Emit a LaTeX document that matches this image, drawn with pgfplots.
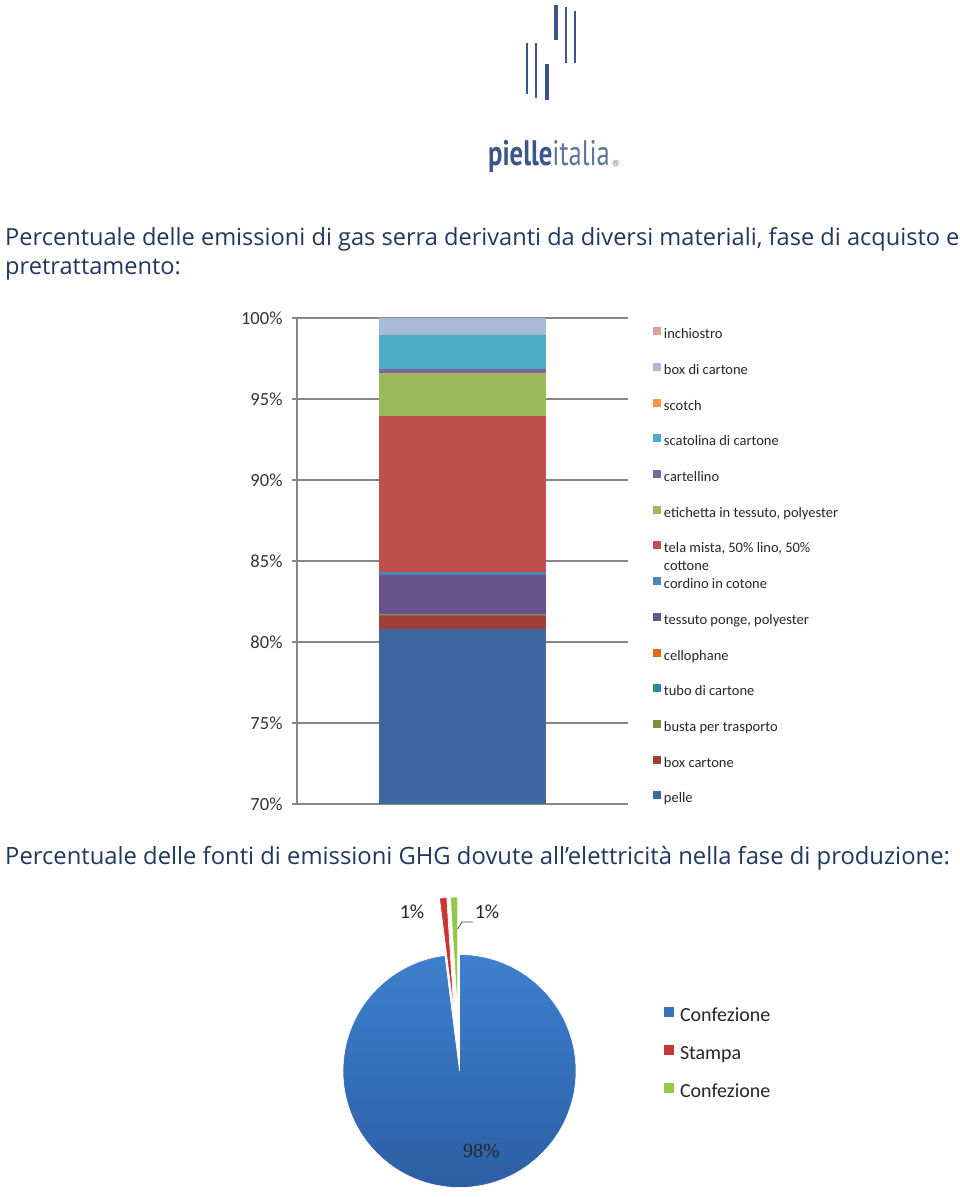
\documentclass[border=0pt]{standalone}
\usepackage{pgfplots}
\pgfplotsset{compat=1.18}
\usepackage{fontspec}
\setmainfont{Open Sans}
\newfontfamily\carlito{Carlito}
\newfontfamily\serifnum{Liberation Serif}
\newfontfamily\logofont[FakeStretch=0.75]{PT Sans}
\newfontfamily\dejavu{DejaVu Sans}
\usetikzlibrary{calc}

\definecolor{titleblue}{RGB}{32,56,96}
\definecolor{logoblue}{RGB}{58,86,140}
\definecolor{logolight}{RGB}{95,115,155}
\definecolor{axisgray}{RGB}{134,134,134}
\definecolor{cPelle}{RGB}{64,104,160}
\definecolor{cBoxCartone}{RGB}{160,62,58}
\definecolor{cBusta}{RGB}{119,147,60}
\definecolor{cTubo}{RGB}{49,133,155}
\definecolor{cCello}{RGB}{228,108,10}
\definecolor{cPonge}{RGB}{104,82,138}
\definecolor{cCordino}{RGB}{79,129,189}
\definecolor{cTela}{RGB}{192,80,77}
\definecolor{cEtich}{RGB}{155,187,89}
\definecolor{cCartel}{RGB}{128,100,162}
\definecolor{cScatol}{RGB}{75,172,198}
\definecolor{cScotch}{RGB}{247,150,70}
\definecolor{cBoxDi}{RGB}{170,185,216}
\definecolor{cInch}{RGB}{217,160,158}
\definecolor{pieBlueTop}{RGB}{62,128,206}
\definecolor{pieBlueBot}{RGB}{44,94,164}
\definecolor{pieBlue}{RGB}{55,115,190}
\definecolor{pieRed}{RGB}{200,55,50}
\definecolor{pieGreen}{RGB}{150,198,70}

\pgfplotsset{
  sq/.style={legend image code/.code={\fill[##1,draw=none] (0pt,0pt) rectangle (8pt,8pt);}},
  sqpie/.style={legend image code/.code={\fill[##1,draw=none] (0pt,0pt) rectangle (10pt,10pt);}},
}

\begin{document}
\begin{tikzpicture}[x=1pt,y=1pt]
\fill[white] (0,0) rectangle (960,-1197);

% ---- logo ----
\draw[logoblue, line width=2pt] (527,-43) -- (527,-94);
\draw[logoblue, line width=2.5pt] (536,-43) -- (536,-98);
\draw[logoblue, line width=3.5pt] (547,-64) -- (547,-100);
\draw[logoblue, line width=3.5pt] (556,-5) -- (556,-40);
\draw[logoblue, line width=2.8pt] (566,-7) -- (566,-63);
\draw[logoblue, line width=2pt] (575,-11) -- (575,-63);
\node[anchor=base west, inner sep=0pt] at (488,-165)
  {\logofont\fontsize{35.5}{40}\selectfont{\bfseries\color{logoblue}pielle}{\color{logolight}italia}};
\node[anchor=base west, inner sep=0pt, text=logolight] at (611.5,-166) {\dejavu\fontsize{8.5}{9}\selectfont ®};

% ---- title 1 ----
\node[anchor=base west, inner sep=0pt, text=titleblue, font=\fontsize{23.6}{27}\selectfont] at (5,-245)
  {Percentuale delle emissioni di gas serra derivanti da diversi materiali, fase di acquisto e};
\node[anchor=base west, inner sep=0pt, text=titleblue, font=\fontsize{23.6}{27}\selectfont] at (5,-274)
  {pretrattamento:};

% ---- stacked bar chart ----
\begin{axis}[
  at={(462.5pt,-561pt)}, anchor=center,
  scale only axis, width=331pt, height=486pt,
  ybar stacked, bar width=167pt,
  xmin=-1, xmax=1, ymin=70, ymax=100,
  xtick=\empty,
  ytick={70,75,80,85,90,95,100},
  yticklabel={\pgfmathprintnumber{\tick}\%},
  /pgf/number format/assume math mode=true,
  yticklabel style={font=\carlito\fontsize{18.5}{20}\selectfont, text=black!80, xshift=-6pt},
  axis x line=none, axis y line*=left,
  y axis line style={-, draw=axisgray, line width=1.2pt},
  ymajorgrids, major grid style={draw=axisgray, line width=1.2pt},
  tick align=outside, major tick length=5pt,
  ytick style={draw=axisgray, line width=1.2pt},
  reverse legend,
  legend cell align=left,
  legend style={at={(1.0746,0.981)}, anchor=north west, draw=none, fill=none,
    inner sep=0pt, outer sep=0pt, row sep=21.7pt,
    font=\carlito\fontsize{14.5}{16}\selectfont, text=black!85,
    nodes={inner sep=0pt, text height=9.5pt, text depth=2.5pt},
    /tikz/every odd column/.append style={column sep=3.3pt}},
]
\addplot[sq, fill=cPelle, draw=none] coordinates {(0,80.80)};
\addlegendentry{pelle}
\addplot[sq, fill=cBoxCartone, draw=none] coordinates {(0,0.80)};
\addlegendentry{box cartone}
\addplot[sq, fill=cBusta, draw=none] coordinates {(0,0.02)};
\addlegendentry{busta per trasporto}
\addplot[sq, fill=cTubo, draw=none] coordinates {(0,0.02)};
\addlegendentry{tubo di cartone}
\addplot[sq, fill=cCello, draw=none] coordinates {(0,0.08)};
\addlegendentry{cellophane}
\addplot[sq, fill=cPonge, draw=none] coordinates {(0,2.42)};
\addlegendentry{tessuto ponge, polyester}
\addplot[sq, fill=cCordino, draw=none] coordinates {(0,0.18)};
\addlegendentry{cordino in cotone}
\addplot[sq, fill=cTela, draw=none] coordinates {(0,9.63)};
\addlegendentry{\smash{\begin{tabular}[t]{@{}l@{}}tela mista, 50\% lino, 50\%\\[1.5pt]cottone\end{tabular}}}
\addplot[sq, fill=cEtich, draw=none] coordinates {(0,2.65)};
\addlegendentry{etichetta in tessuto, polyester}
\addplot[sq, fill=cCartel, draw=none] coordinates {(0,0.25)};
\addlegendentry{cartellino}
\addplot[sq, fill=cScatol, draw=none] coordinates {(0,2.10)};
\addlegendentry{scatolina di cartone}
\addplot[sq, fill=cScotch, draw=none] coordinates {(0,0.03)};
\addlegendentry{scotch}
\addplot[sq, fill=cBoxDi, draw=none] coordinates {(0,1.00)};
\addlegendentry{box di cartone}
\addplot[sq, fill=cInch, draw=none] coordinates {(0,0.02)};
\addlegendentry{inchiostro}
\end{axis}

% ---- title 2 ----
\node[anchor=base west, inner sep=0pt, text=titleblue, font=\fontsize{23.8}{27}\selectfont] at (5,-864)
  {Percentuale delle fonti di emissioni GHG dovute all’elettricità nella fase di produzione:};

% ---- pie chart ----
\def\pieA{98}\def\pieB{1}\def\pieC{1}
\def\pieR{116.5pt}\def\pieE{57.5pt}
\pgfmathsetmacro\aA{90-3.6*\pieA}
\pgfmathsetmacro\aB{\aA-3.6*\pieB}
\pgfmathsetmacro\aC{\aB-3.6*\pieC}
\pgfmathsetmacro\mB{(\aA+\aB)/2}
\pgfmathsetmacro\mC{(\aB+\aC)/2}
\begin{axis}[
  at={(459.5pt,-1071pt)}, anchor=center,
  scale only axis, width=300pt, height=300pt,
  xmin=-150, xmax=150, ymin=-150, ymax=150,
  hide axis, clip=false,
  legend cell align=left,
  legend style={at={(1.1817,0.7143)}, anchor=north west, draw=none, fill=none,
    inner sep=0pt, outer sep=0pt, row sep=19pt,
    font=\carlito\fontsize{20}{22}\selectfont, text=black!85,
    nodes={inner sep=0pt, text height=14pt, text depth=4pt},
    /tikz/every odd column/.append style={column sep=6pt}},
]
\shade[top color=pieBlueTop, bottom color=pieBlueBot, draw=white, line width=0.6pt]
  (axis cs:0,0) -- ++(90:\pieR) arc[start angle=90, end angle=\aA, radius=\pieR] -- cycle;
\fill[pieRed, draw=white, line width=0.6pt]
  ($(axis cs:0,0)+(\mB:\pieE)$) -- ++(\aA:\pieR) arc[start angle=\aA, end angle=\aB, radius=\pieR] -- cycle;
\fill[pieGreen, draw=white, line width=0.6pt]
  ($(axis cs:0,0)+(\mC:\pieE)$) -- ++(\aB:\pieR) arc[start angle=\aB, end angle=\aC, radius=\pieR] -- cycle;
\draw[black!75, line width=0.7pt] (axis cs:13,149) -- (axis cs:2.5,149) -- (axis cs:-2,142);
\node[font=\carlito\fontsize{20}{22}\selectfont, text=black!85] at (axis cs:-47.5,159) {1\%};
\node[font=\carlito\fontsize{20}{22}\selectfont, text=black!85] at (axis cs:27.5,159) {1\%};
\node[font=\serifnum\fontsize{20}{22}\selectfont, text=black!85] at (axis cs:22,-80) {98\%};
\addlegendimage{sqpie, fill=pieBlue}
\addlegendentry{Confezione}
\addlegendimage{sqpie, fill=pieRed}
\addlegendentry{Stampa}
\addlegendimage{sqpie, fill=pieGreen}
\addlegendentry{Confezione}
\end{axis}

\pgfresetboundingbox
\path (0,0) rectangle (960,-1197);
\end{tikzpicture}
\end{document}
